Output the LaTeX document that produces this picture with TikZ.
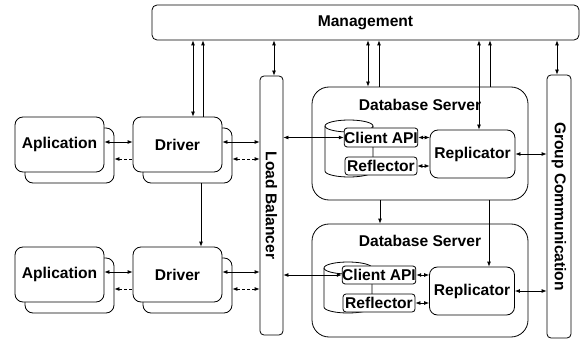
\documentclass[tikz,border=0pt]{standalone}
\usepackage{fontspec}
\setmainfont{Liberation Sans}
\usetikzlibrary{arrows.meta}

\begin{document}
\begin{tikzpicture}[x=1pt,y=1pt,line width=0.8pt,>={Latex[length=5pt,width=4pt]},font=\fontsize{15.6}{18}\selectfont\bfseries]
\tikzstyle{every node}+=[inner sep=0pt]
\tikzstyle{box}=[draw,fill=white,rounded corners=8pt,minimum width=89pt,minimum height=55pt]
\tikzstyle{bar}=[draw,fill=white,rounded corners=4pt]
\tikzstyle{part}=[draw,fill=white,rounded corners=3pt,minimum width=72pt,minimum height=18pt]
\tikzstyle{server}=[draw,rounded corners=17pt,minimum width=216pt,minimum height=113pt]
\tikzstyle{repl}=[draw,fill=white,rounded corners=8pt,minimum width=85pt,minimum height=48pt]
\tikzstyle{back}=[dash pattern=on 3pt off 2pt]
\useasboundingbox (0,0) rectangle (582,-345);
\node [bar, rounded corners=5pt, minimum width=427pt, minimum height=35pt] (mgmt) at (365.5,-22.5) {Management};
\node [box] (app1s) at (69.5,-155.5) {};
\node [box] (app1) at (59.5,-144.5) {Aplication};
\node [box] (drv1s) at (187.5,-155.5) {};
\node [box] (drv1) at (177.5,-144.5) {Driver};
\node [box] (app2s) at (69.5,-285.5) {};
\node [box] (app2) at (59.5,-274.5) {Aplication};
\node [box] (drv2s) at (187.5,-285.5) {};
\node [box] (drv2) at (177.5,-274.5) {Driver};
\node [bar, minimum width=23pt, minimum height=259pt] (lb) at (271.5,-205.5) {};
\node [rotate=-90] (lbtext) at (lb) {Load Balancer};
\node [bar, minimum width=24pt, minimum height=263pt] (gc) at (559,-206.5) {};
\node [rotate=-90] (gctext) at (gc) {Group Communication};
% upper server
\node [server] (db1) at (420,-143.5) {};
\node (db1text) at (420,-105) {Database Server};
\draw (325,-126) -- (325,-171) arc (180:360:24 and 6) -- (373,-126);
\draw (349,-126) ellipse (24 and 6);
\node [part, minimum height=19pt] (capi1) at (381,-137.5) {Client API};
\node [part] (refl1) at (381,-166) {Reflector};
\node [repl] (rep1) at (472.5,-154) {Replicator};
% lower server
\node [server] (db2) at (420,-280.5) {};
\node (db2text) at (420,-241) {Database Server};
\draw (324,-268) -- (324,-307) arc (180:360:24 and 6) -- (372,-268);
\draw (348,-268) ellipse (24 and 6);
\node [part] (capi2) at (379,-275) {Client API};
\node [part] (refl2) at (379,-303) {Reflector};
\node [repl] (rep2) at (472,-291) {Replicator};
% application side
\draw [<->] ([yshift=2.5]app1.east) -- ([yshift=2.5]drv1.west);
\draw [<-, back] ([yshift=-3.5]app1s.east) -- ([yshift=-3.5]app1s.east -| drv1.west);
\draw [<->] ([yshift=2.5]drv1.east) -- ([yshift=2.5]drv1.east -| lb.west);
\draw [<->, back] ([yshift=-3.5]drv1s.east) -- ([yshift=-3.5]drv1s.east -| lb.west);
\draw [<->] ([yshift=2.5]app2.east) -- ([yshift=2.5]drv2.west);
\draw [<-, back] ([yshift=-3.5]app2s.east) -- ([yshift=-3.5]app2s.east -| drv2.west);
\draw [<->] ([yshift=2.5]drv2.east) -- ([yshift=2.5]drv2.east -| lb.west);
\draw [<->, back] ([yshift=-3.5]drv2s.east) -- ([yshift=-3.5]drv2s.east -| lb.west);
\draw [->] ([xshift=13.5]drv1s.south) -- ([xshift=13.5]drv1s.south |- drv2.north);
% management
\draw [<->] ([xshift=15.5]drv1.north) -- ([xshift=15.5]drv1.north |- mgmt.south);
\draw [->] ([xshift=25.5]drv1.north) -- ([xshift=25.5]drv1.north |- mgmt.south);
\draw [<->] ([xshift=2.5]lb.north) -- ([xshift=2.5]lb.north |- mgmt.south);
\draw [<->] ([xshift=-52]db1.north) -- ([xshift=-52]db1.north |- mgmt.south);
\draw [->] ([xshift=-41]db1.north) -- ([xshift=-41]db1.north |- mgmt.south);
\draw [<->] ([xshift=6.5]rep1.north) -- ([xshift=6.5]rep1.north |- mgmt.south);
\draw [->] ([xshift=70]db1.north) -- ([xshift=70]db1.north |- mgmt.south);
\draw [<->] ([xshift=-2]gc.north) -- ([xshift=-2]gc.north |- mgmt.south);
% servers
\draw [<->] (lb.east |- capi1.west) -- (capi1.west);
\draw [<->] (capi1.east) -- (capi1.east -| rep1.west);
\draw [<->] (refl1.east) -- (refl1.east -| rep1.west);
\draw [<->] (rep1.east) -- (rep1.east -| gc.west);
\draw [<->] (lb.east |- capi2.west) -- (capi2.west);
\draw [<->] (capi2.east) -- (capi2.east -| rep2.west);
\draw [<->] (refl2.east) -- (refl2.east -| rep2.west);
\draw [<->] (rep2.east) -- (rep2.east -| gc.west);
\draw [->] ([xshift=-40]db1.south) -- ([xshift=-40]db1.south |- db2.north);
\draw [->] ([xshift=69]db1.south) -- ([xshift=69]db1.south |- rep2.north);
\end{tikzpicture}
\end{document}
